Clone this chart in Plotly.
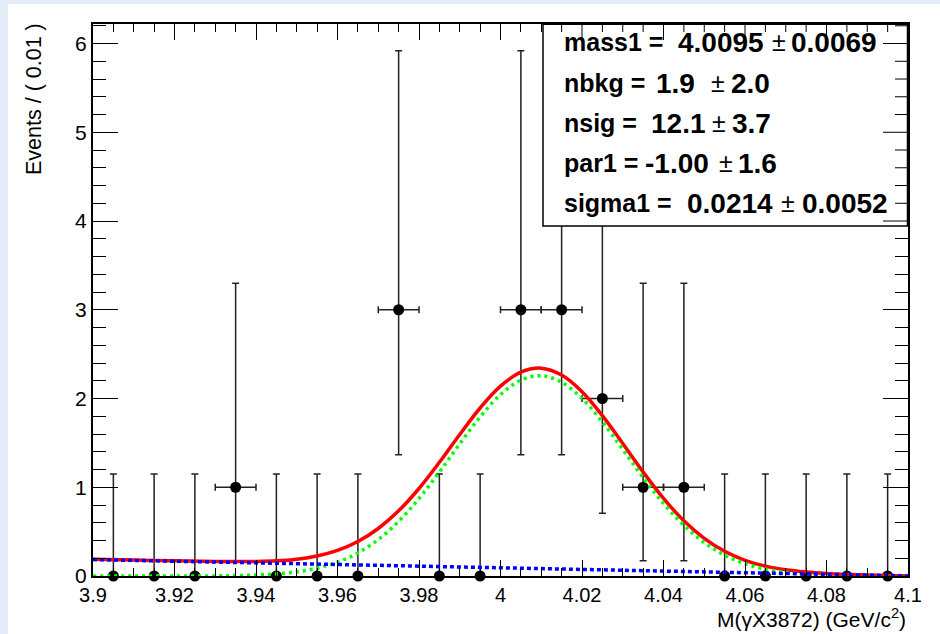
import numpy as np
import plotly.graph_objects as go

# ---------------- data ----------------
bin_centers = [3.905, 3.915, 3.925, 3.935, 3.945, 3.955, 3.965, 3.975, 3.985, 3.995,
               4.005, 4.015, 4.025, 4.035, 4.045, 4.055, 4.065, 4.075, 4.085, 4.095]
counts = [0, 0, 0, 1, 0, 0, 0, 3, 0, 0, 3, 3, 2, 1, 1, 0, 0, 0, 0, 0]
err_up = [1.148, 1.148, 1.148, 2.299, 1.148, 1.148, 1.148, 2.918, 1.148, 1.148,
          2.918, 2.918, 2.638, 2.299, 2.299, 1.148, 1.148, 1.148, 1.148, 1.148]
err_down = [0, 0, 0, 0.827, 0, 0, 0, 1.633, 0, 0,
            1.633, 1.633, 1.292, 0.827, 0.827, 0, 0, 0, 0, 0]
x_err = [0, 0, 0, 0.005, 0, 0, 0, 0.005, 0, 0,
         0.005, 0.005, 0.005, 0.005, 0.005, 0, 0, 0, 0, 0]

curve_x = [3.900, 3.910, 3.920, 3.930, 3.935, 3.940, 3.945, 3.950, 3.955, 3.960,
           3.965, 3.970, 3.975, 3.980, 3.985, 3.990, 3.995, 4.000, 4.005, 4.010,
           4.015, 4.020, 4.025, 4.030, 4.035, 4.040, 4.045, 4.050, 4.055, 4.060,
           4.065, 4.070, 4.075, 4.080, 4.090, 4.100]
total_y = [0.190, 0.181, 0.171, 0.163, 0.162, 0.164, 0.171, 0.190, 0.226, 0.288,
           0.388, 0.535, 0.734, 0.986, 1.281, 1.595, 1.893, 2.139, 2.297, 2.342,
           2.264, 2.076, 1.807, 1.493, 1.171, 0.874, 0.622, 0.424, 0.278, 0.177,
           0.111, 0.070, 0.045, 0.029, 0.012, 0.000]
signal_y = [0.000, 0.000, 0.000, 0.001, 0.005, 0.012, 0.024, 0.047, 0.088, 0.155,
            0.260, 0.411, 0.615, 0.872, 1.172, 1.490, 1.793, 2.044, 2.207, 2.256,
            2.183, 2.000, 1.736, 1.426, 1.109, 0.817, 0.570, 0.376, 0.235, 0.139,
            0.078, 0.041, 0.021, 0.010, 0.002, 0.000]
bkg_x = [3.900, 3.950, 4.000, 4.050, 4.100]
bkg_y = [0.185, 0.140, 0.095, 0.046, 0.000]

fit_labels = ["mass1 =", "nbkg =", "nsig =", "par1 =", "sigma1 ="]
fit_values = ["4.0095", "1.9", "12.1", "-1.00", "0.0214"]
fit_errors = ["0.0069", "2.0", "3.7", "1.6", "0.0052"]

x_range = [3.9, 4.1]
y_range = [0, 6.22]

# ---------------- layout geometry ----------------
# the page places the figure 8 px from the top-left corner (body margin)
OFF = 8
W, H = 932, 626
FRAME_L, FRAME_R, FRAME_T, FRAME_B = 93, 908, 24, 576   # in page pixels
L = FRAME_L - OFF
T = FRAME_T - OFF
R = W - (FRAME_R - OFF)
B = H - (FRAME_B - OFF)
PW, PH = W - L - R, H - T - B


def px(xp):
    """page pixel x -> paper coordinate"""
    return (xp - OFF - L) / PW


def py(yp):
    """page pixel y -> paper coordinate"""
    return (H - B - (yp - OFF)) / PH


FONT = "Liberation Sans, Arial, Helvetica, sans-serif"

fig = go.Figure()

fig.add_trace(go.Scatter(
    x=bin_centers, y=counts, mode="markers",
    marker=dict(color="black", size=11),
    error_y=dict(type="data", symmetric=False, array=err_up, arrayminus=err_down,
                 color="#222222", thickness=1.5, width=3.5),
    error_x=dict(type="data", array=x_err, color="#222222", thickness=1.5, width=3.5),
    cliponaxis=False, showlegend=False, hoverinfo="x+y"))

fig.add_trace(go.Scatter(
    x=curve_x, y=total_y, mode="lines", line=dict(color="#ff0000", width=3.5, shape="spline"),
    showlegend=False))
fig.add_trace(go.Scatter(
    x=curve_x, y=signal_y, mode="lines",
    line=dict(color="#00ff00", width=3.5, dash="3px,4px", shape="spline"),
    showlegend=False))
fig.add_trace(go.Scatter(
    x=bkg_x, y=bkg_y, mode="lines",
    line=dict(color="#0000ff", width=3.5, dash="4px,3px"),
    showlegend=False))

axis_common = dict(showgrid=False, zeroline=False, showline=True, linecolor="black",
                   linewidth=2, mirror="allticks", ticks="inside", tickcolor="black",
                   tickwidth=1)

fig.update_xaxes(range=x_range, dtick=0.02, tick0=3.9, ticklen=16,
                 minor=dict(dtick=0.005, ticklen=8, ticks="inside", tickcolor="black", tickwidth=1),
                 tickfont=dict(family=FONT, size=20, color="black"),
                 **axis_common)
fig.update_yaxes(range=y_range, dtick=1, tick0=0, ticklen=25,
                 minor=dict(dtick=0.2, ticklen=13, ticks="inside", tickcolor="black", tickwidth=1),
                 tickfont=dict(family=FONT, size=21, color="black"),
                 **axis_common)

shapes = []
# fit parameter box
box_x0, box_x1, box_y0, box_y1 = 543, 908, 24, 226
shapes.append(dict(type="rect", xref="paper", yref="paper",
                   x0=px(box_x0), x1=px(box_x1), y0=py(box_y1), y1=py(box_y0),
                   fillcolor="white", line=dict(color="black", width=1.5), layer="above"))
# axis ticks that remain visible over the box
box_xmin = x_range[0] + (px(box_x0)) * (x_range[1] - x_range[0])
box_ymin = y_range[0] + (py(box_y1)) * (y_range[1] - y_range[0])
for i in range(0, 41):
    xv = round(3.9 + 0.005 * i, 3)
    if xv <= box_xmin or xv >= 4.1:
        continue
    major = abs(round(xv / 0.02) * 0.02 - xv) < 1e-9
    shapes.append(dict(type="line", xref="x", yref="paper", x0=xv, x1=xv,
                       ysizemode="pixel", yanchor=1, y0=0, y1=-(16 if major else 8),
                       line=dict(color="black", width=1), layer="above"))
for i in range(0, 32):
    yv = round(0.2 * i, 3)
    if yv <= box_ymin or yv >= y_range[1]:
        continue
    major = abs(round(yv) - yv) < 1e-9
    shapes.append(dict(type="line", xref="paper", yref="y", y0=yv, y1=yv,
                       xsizemode="pixel", xanchor=1, x0=0, x1=-(25 if major else 13),
                       line=dict(color="black", width=1), layer="above"))
# frame edges redrawn over the box
shapes.append(dict(type="line", xref="paper", yref="paper", x0=px(box_x0), x1=1, y0=1, y1=1,
                   line=dict(color="black", width=2), layer="above"))
shapes.append(dict(type="line", xref="paper", yref="paper", x0=1, x1=1, y0=py(box_y1), y1=1,
                   line=dict(color="black", width=2.5), layer="above"))

annotations = []
line_y = [42, 83, 123, 163, 203]
val_c = [720.5, 675, 678, 677, 730]
pm_c = [778.5, 717.5, 718.5, 726, 787.5]
err_c = [834, 750, 751.5, 757, 845]
for i in range(5):
    yy = py(line_y[i])
    annotations.append(dict(x=px(562), y=yy, xref="paper", yref="paper", xanchor="left", yanchor="middle",
                            text="<b>%s</b>" % fit_labels[i], showarrow=False,
                            font=dict(family=FONT, size=25, color="black")))
    annotations.append(dict(x=px(val_c[i]), y=yy, xref="paper", yref="paper", xanchor="center", yanchor="middle",
                            text="<b>%s</b>" % fit_values[i], showarrow=False,
                            font=dict(family=FONT, size=28, color="black")))
    annotations.append(dict(x=px(pm_c[i]), y=yy, xref="paper", yref="paper", xanchor="center", yanchor="middle",
                            text="±", showarrow=False,
                            font=dict(family=FONT, size=25, color="black")))
    annotations.append(dict(x=px(err_c[i]), y=yy, xref="paper", yref="paper", xanchor="center", yanchor="middle",
                            text="<b>%s</b>" % fit_errors[i], showarrow=False,
                            font=dict(family=FONT, size=28, color="black")))

annotations.append(dict(x=1, y=py(618), xref="paper", yref="paper", xanchor="right", yanchor="middle",
                        text="M(γX3872) (GeV/c<sup>2</sup>)", showarrow=False,
                        font=dict(family=FONT, size=21, color="black")))
annotations.append(dict(x=px(34), y=py(21), xref="paper", yref="paper", xanchor="center", yanchor="top",
                        text="Events / ( 0.01 )", textangle=-90, showarrow=False,
                        font=dict(family=FONT, size=21.5, color="black")))

fig.update_layout(width=W, height=H, margin=dict(l=L, r=R, t=T, b=B, pad=0),
                  paper_bgcolor="white", plot_bgcolor="white",
                  shapes=shapes, annotations=annotations, showlegend=False)

# light-blue strips along the top and left page edges, as in the reference page
page_bg = ("document.body.style.background = "
           "'linear-gradient(to bottom, #e3ecf8 0px, #e3ecf8 4px, rgba(255,255,255,0) 4px), "
           "linear-gradient(to right, #e3ecf8 0px, #e3ecf8 8px, #ffffff 8px)';")
fig.write_html("out.html", post_script=page_bg)
